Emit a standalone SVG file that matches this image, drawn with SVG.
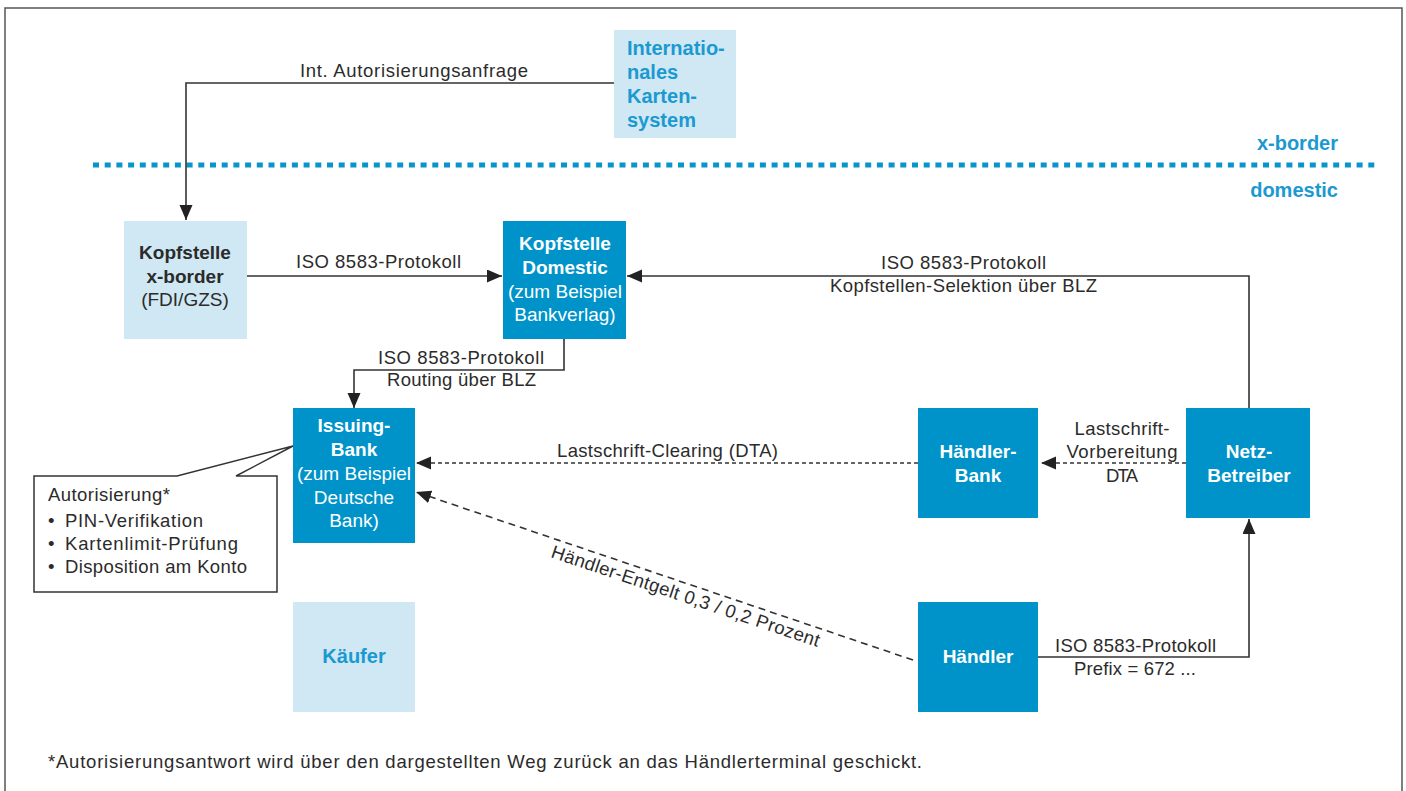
<svg xmlns="http://www.w3.org/2000/svg" width="1406" height="791" viewBox="0 0 1406 791">
<style>
text{font-family:"Liberation Sans",Arial,sans-serif;}
.lbl{font-size:18.5px;fill:#2b2b2b;}
.nd{font-size:19px;fill:#fff;text-anchor:middle;}
.b{font-weight:bold;}
.ndk{font-size:19px;fill:#2b2b2b;text-anchor:middle;}
.blue{font-size:20px;font-weight:bold;fill:#1b99d1;}
.dark{fill:#0093c9;}
.light{fill:#cfe8f4;}
.ln{fill:none;stroke:#333;stroke-width:1.6;}
.dot{stroke-dasharray:4 3;}
.dash{stroke-dasharray:7 5;}
.mid{text-anchor:middle;}
</style>
<defs>
<marker id="ah" markerUnits="userSpaceOnUse" markerWidth="16" markerHeight="14" refX="15" refY="6.5" orient="auto">
<path d="M0,0 L15,6.5 L0,13 Z" fill="#222"/>
</marker>
</defs>
<rect x="5" y="8" width="1397" height="800" fill="#fff" stroke="#555" stroke-width="1.5"/>

<g id="divider">
<line x1="93" y1="165" x2="1378" y2="165" stroke="#0a94cc" stroke-width="5" stroke-dasharray="6 5.7"/>
<text class="blue" x="1338" y="150" text-anchor="end">x-border</text>
<text class="blue" x="1338" y="197" text-anchor="end">domestic</text>
</g>

<g id="connectors">
<path class="ln" d="M614,83 H186 V220" marker-end="url(#ah)"/>
<path class="ln" d="M247,276 H502" marker-end="url(#ah)"/>
<path class="ln" d="M1249,408 V276 H627" marker-end="url(#ah)"/>
<path class="ln" d="M564,339 V370 H354 V408" marker-end="url(#ah)"/>
<path class="ln dot" d="M918,463 H416" marker-end="url(#ah)"/>
<path class="ln dot" d="M1186,463 H1041" marker-end="url(#ah)"/>
<path class="ln dash" d="M913,660 L416,492" marker-end="url(#ah)"/>
<path class="ln" d="M1038,657 H1249 V519" marker-end="url(#ah)"/>
<text class="lbl mid" x="414" y="77" textLength="228">Int. Autorisierungsanfrage</text>
<text class="lbl mid" x="378.5" y="268" textLength="165">ISO 8583-Protokoll</text>
<text class="lbl mid" x="963.5" y="269" textLength="165">ISO 8583-Protokoll</text>
<text class="lbl mid" x="963.5" y="292" textLength="267">Kopfstellen-Selektion über BLZ</text>
<text class="lbl mid" x="461" y="364" textLength="166">ISO 8583-Protokoll</text>
<text class="lbl mid" x="461.5" y="386" textLength="149">Routing über BLZ</text>
<text class="lbl mid" x="667.5" y="457" textLength="221">Lastschrift-Clearing (DTA)</text>
<text class="lbl mid" x="1122" y="435" textLength="95">Lastschrift-</text>
<text class="lbl mid" x="1122" y="458" textLength="111">Vorbereitung</text>
<text class="lbl mid" x="1122" y="482" textLength="32">DTA</text>
<text class="lbl mid" x="1135.5" y="652" textLength="161">ISO 8583-Protokoll</text>
<text class="lbl mid" x="1135" y="675" textLength="122">Prefix = 672 ...</text>
<text class="lbl" x="550" y="557" transform="rotate(18.6 550 557)" textLength="282">Händler-Entgelt 0,3 / 0,2 Prozent</text>
</g>

<g id="int-kartensystem">
<rect class="light" x="614" y="30" width="122" height="108"/>
<text class="blue" x="627" y="55">Internatio-</text>
<text class="blue" x="627" y="79">nales</text>
<text class="blue" x="627" y="103">Karten-</text>
<text class="blue" x="627" y="127">system</text>
</g>

<g id="kopfstelle-xborder">
<rect class="light" x="124" y="221" width="123" height="118"/>
<text class="ndk b" x="185" y="259">Kopfstelle</text>
<text class="ndk b" x="185" y="283">x-border</text>
<text class="ndk" x="185" y="306">(FDI/GZS)</text>
</g>

<g id="kopfstelle-domestic">
<rect class="dark" x="503" y="221" width="123" height="118"/>
<text class="nd b" x="565" y="250">Kopfstelle</text>
<text class="nd b" x="565" y="274">Domestic</text>
<text class="nd" x="565" y="298">(zum Beispiel</text>
<text class="nd" x="565" y="321">Bankverlag)</text>
</g>

<g id="issuing-bank">
<rect class="dark" x="293" y="408" width="122" height="135"/>
<text class="nd b" x="354" y="432">Issuing-</text>
<text class="nd b" x="354" y="456">Bank</text>
<text class="nd" x="354" y="480">(zum Beispiel</text>
<text class="nd" x="354" y="504">Deutsche</text>
<text class="nd" x="354" y="527">Bank)</text>
</g>

<g id="callout">
<path d="M34,476 H177 L293,446 L236,476 H277 V592 H34 Z" fill="#fff" stroke="#333" stroke-width="1.5"/>
<text class="lbl" x="48" y="501" textLength="122">Autorisierung*</text>
<text class="lbl" x="48" y="527">•<tspan x="65" textLength="138">PIN-Verifikation</tspan></text>
<text class="lbl" x="48" y="550">•<tspan x="65" textLength="173">Kartenlimit-Prüfung</tspan></text>
<text class="lbl" x="48" y="573">•<tspan x="65" textLength="182">Disposition am Konto</tspan></text>
</g>

<g id="haendler-bank">
<rect class="dark" x="918" y="408" width="120" height="110"/>
<text class="nd b" x="978" y="458">Händler-</text>
<text class="nd b" x="978" y="482">Bank</text>
</g>

<g id="netz-betreiber">
<rect class="dark" x="1186" y="408" width="124" height="110"/>
<text class="nd b" x="1249" y="458">Netz-</text>
<text class="nd b" x="1249" y="482">Betreiber</text>
</g>

<g id="kaeufer">
<rect class="light" x="293" y="602" width="122" height="110"/>
<text class="blue mid" x="354" y="663">Käufer</text>
</g>

<g id="haendler">
<rect class="dark" x="918" y="602" width="120" height="110"/>
<text class="nd b" x="978" y="663">Händler</text>
</g>

<g id="footer">
<text class="lbl" x="48" y="768" textLength="874">*Autorisierungsantwort wird über den dargestellten Weg zurück an das Händlerterminal geschickt.</text>
</g>
</svg>
